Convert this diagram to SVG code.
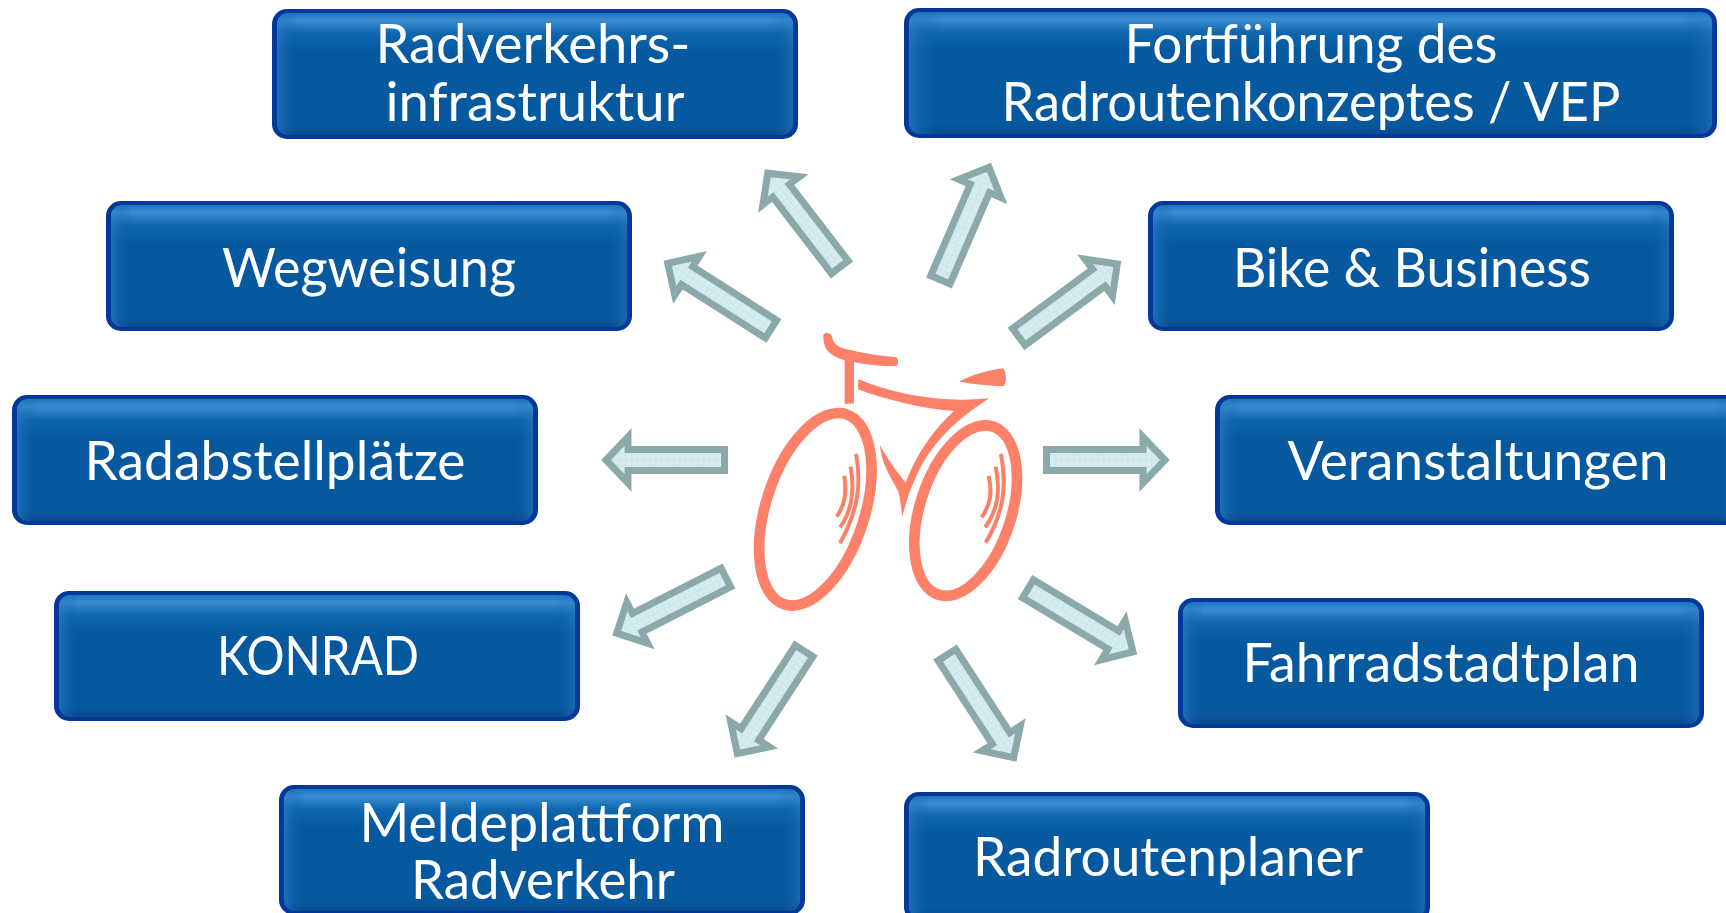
<svg xmlns="http://www.w3.org/2000/svg" width="1726" height="913" viewBox="0 0 1726 913">
<style>
text{font-family:"Lato","Noto Sans","Liberation Sans",sans-serif;font-size:54px;fill:#fff}
.o{fill:#02389a}
.b{fill:url(#bg)}
.s{fill:url(#sd)}
.bike{fill:#fd8069}
.w{fill:none;stroke:#fd8069;stroke-width:32}
.sp{fill:none;stroke:#fd8069;stroke-width:12}
.a{fill:url(#hatch);stroke:#8ba8aa;stroke-width:7;stroke-miterlimit:6}
</style>
<defs>
<linearGradient id="bg" x1="0" y1="0" x2="0" y2="1">
<stop offset="0" stop-color="#1f74bf"/><stop offset=".06" stop-color="#3a8dd2"/><stop offset=".17" stop-color="#0f66ac"/><stop offset=".32" stop-color="#06599e"/><stop offset=".92" stop-color="#06599e"/><stop offset="1" stop-color="#0a4a8c"/>
</linearGradient>
<linearGradient id="sd" x1="0" y1="0" x2="1" y2="0">
<stop offset="0" stop-color="#2e7fc6" stop-opacity=".6"/><stop offset=".04" stop-color="#06599e" stop-opacity="0"/><stop offset=".96" stop-color="#06599e" stop-opacity="0"/><stop offset="1" stop-color="#2e7fc6" stop-opacity=".45"/>
</linearGradient>
<pattern id="hatch" width="6" height="6" patternUnits="userSpaceOnUse">
<rect width="6" height="6" fill="#d6ecef"/><path d="M0 0H6M0 0V6" stroke="#c2e0e4" stroke-width="1"/>
</pattern>
<path id="arrow" class="a" d="M3.5 -10.5H103V-23L126 0L103 23V10.5H3.5Z"/>
<path id="arrow-short" class="a" d="M3.5 -10.5H100V-23L122 0L100 23V10.5H3.5Z"/>
<g id="box"><rect class="o" width="526" height="130" rx="15"/><rect class="b" x="5" y="4" width="516" height="122" rx="11"/><rect class="s" x="5" y="4" width="516" height="122" rx="11"/></g>
</defs>
<rect width="1726" height="913" fill="#fff"/>
<g id="connectors">
<use href="#arrow-short" transform="translate(728 460) rotate(180)"/>
<use href="#arrow-short" transform="translate(1043 460)"/>
<use href="#arrow-short" transform="translate(842 270) rotate(-127.5)"/>
<use href="#arrow" transform="translate(939 283) rotate(-66.6)"/>
<use href="#arrow" transform="translate(774 331) rotate(-147.5)"/>
<use href="#arrow" transform="translate(1016 339) rotate(-36.5)"/>
<use href="#arrow" transform="translate(729 576) rotate(153)"/>
<use href="#arrow" transform="translate(1025 587) rotate(31)"/>
<use href="#arrow" transform="translate(806 648) rotate(123)"/>
<use href="#arrow" transform="translate(945 652) rotate(57)"/>
</g>
<g id="bicycle" transform="translate(730 310) scale(.3333)">
<ellipse class="w" cx="256" cy="598" rx="148" ry="300" transform="rotate(18 256 598)"/>
<ellipse class="w" cx="707" cy="602" rx="137" ry="265" transform="rotate(18 707 602)"/>
<path class="bike" d="M280 75C284 66 300 68 306 78C308 100 325 112 350 118C400 130 450 138 500 142C506 150 506 162 500 168C450 170 400 162 372 156V280L344 282V150C310 142 278 125 280 75Z"/>
<path class="bike" d="M385 208L384 238C470 270 570 295 672 303C610 360 560 430 527 518C505 490 470 445 450 405C455 470 490 510 505 545C512 570 514 600 517 620C525 590 535 550 552 515C590 420 660 340 778 265C640 280 500 255 385 208Z"/>
<path class="bike" d="M688 215C720 195 780 180 820 175C830 190 830 215 822 228C780 228 730 222 688 215Z"/>
<path class="sp" d="M378 432C395 520 385 600 330 700M362 470C374 540 368 600 330 652M343 497C350 550 345 585 320 620M813 432C832 530 820 610 767 698M797 470C812 540 805 600 765 652M776 498C788 550 780 585 755 622"/>
</g>
<g id="n-radverkehrsinfrastruktur"><use href="#box" x="272" y="9"/><text x="533" y="63" text-anchor="middle" textLength="315" lengthAdjust="spacingAndGlyphs">Radverkehrs-</text><text x="535" y="121" text-anchor="middle" textLength="299" lengthAdjust="spacingAndGlyphs">infrastruktur</text></g>
<g id="n-fortfuehrung"><rect class="o" x="904" y="8" width="813" height="130" rx="15"/><rect class="b" x="909" y="12" width="803" height="122" rx="11"/><rect class="s" x="909" y="12" width="803" height="122" rx="11"/><text x="1311" y="63" text-anchor="middle" textLength="373" lengthAdjust="spacingAndGlyphs">Fortführung des</text><text x="1311" y="121" text-anchor="middle" textLength="619" lengthAdjust="spacingAndGlyphs">Radroutenkonzeptes / VEP</text></g>
<g id="n-wegweisung"><use href="#box" x="106" y="201"/><text x="369" y="287" text-anchor="middle" textLength="294" lengthAdjust="spacingAndGlyphs">Wegweisung</text></g>
<g id="n-bike"><use href="#box" x="1148" y="201"/><text x="1412" y="287" text-anchor="middle" textLength="358" lengthAdjust="spacingAndGlyphs">Bike &amp; Business</text></g>
<g id="n-radabstellplaetze"><use href="#box" x="12" y="395"/><text x="275" y="480" text-anchor="middle" textLength="381" lengthAdjust="spacingAndGlyphs">Radabstellplätze</text></g>
<g id="n-veranstaltungen"><use href="#box" x="1215" y="395"/><text x="1478" y="480" text-anchor="middle" textLength="381" lengthAdjust="spacingAndGlyphs">Veranstaltungen</text></g>
<g id="n-konrad"><use href="#box" x="54" y="591"/><text x="318" y="675" text-anchor="middle" textLength="202" lengthAdjust="spacingAndGlyphs">KONRAD</text></g>
<g id="n-fahrradstadtplan"><use href="#box" x="1178" y="598"/><text x="1441" y="682" text-anchor="middle" textLength="397" lengthAdjust="spacingAndGlyphs">Fahrradstadtplan</text></g>
<g id="n-meldeplattform"><use href="#box" x="279" y="785"/><text x="542" y="842" text-anchor="middle" textLength="365" lengthAdjust="spacingAndGlyphs">Meldeplattform</text><text x="543" y="899" text-anchor="middle" textLength="264" lengthAdjust="spacingAndGlyphs">Radverkehr</text></g>
<g id="n-radroutenplaner"><use href="#box" x="904" y="792"/><text x="1168" y="876" text-anchor="middle" textLength="390" lengthAdjust="spacingAndGlyphs">Radroutenplaner</text></g>
</svg>
